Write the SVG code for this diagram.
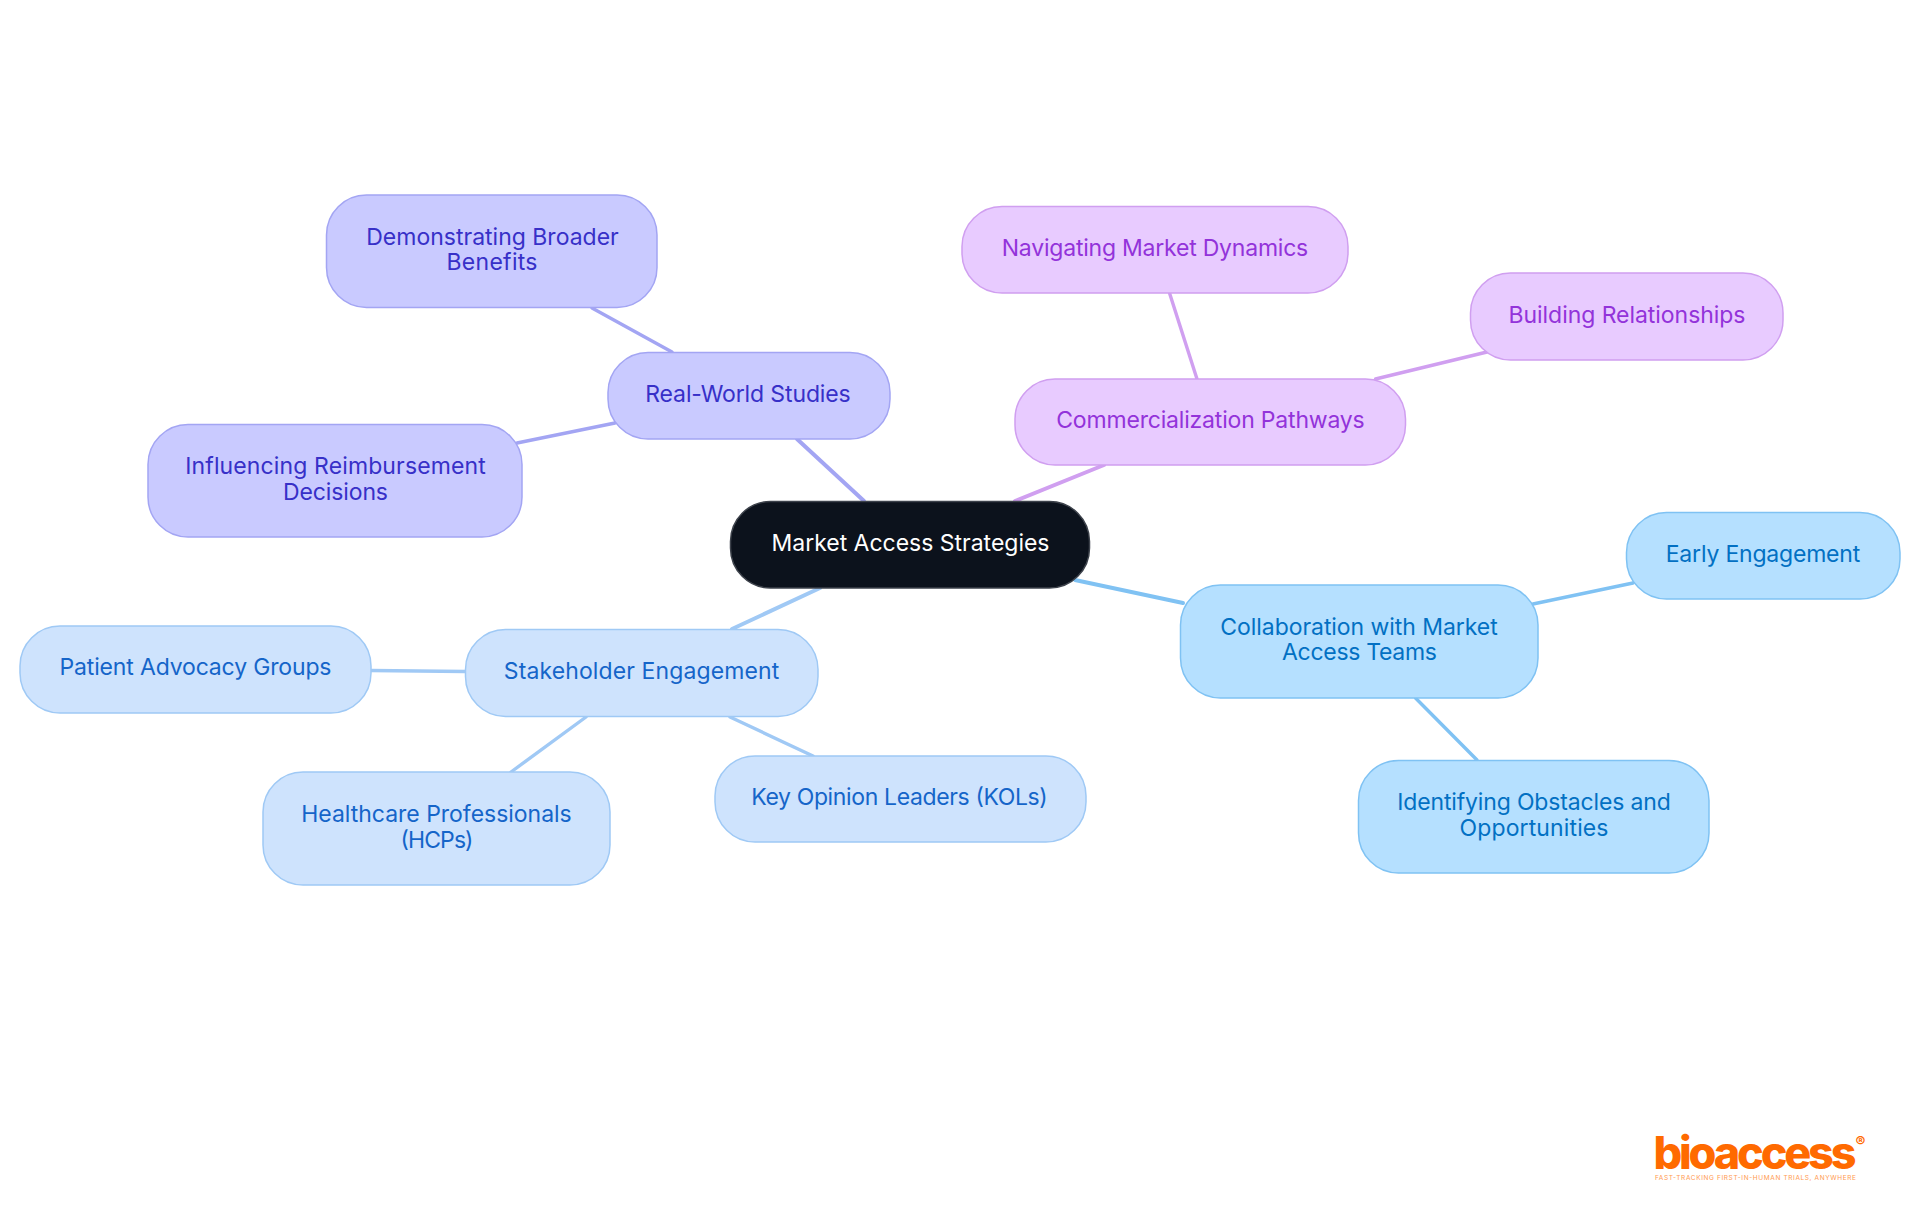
<svg xmlns="http://www.w3.org/2000/svg" width="1920" height="1215" viewBox="0 0 1920 1215">
<style>
text{font-family:"Inter","Noto Sans","Liberation Sans",sans-serif;font-size:23px;font-weight:400;text-anchor:middle}
rect{stroke-width:1.5}
line{stroke-linecap:round;fill:none}
.e1{stroke-width:4}
.e2{stroke-width:3.4}
.indigo rect{fill:#c9caff;stroke:#a3a5f3}.indigo text{fill:#3730c8}
.purple rect{fill:#e8cbff;stroke:#d09ff0}.purple text{fill:#9333da}
.blue rect{fill:#cee3fd;stroke:#9fc9f5}.blue text{fill:#1565c9}
.sky rect{fill:#b5e0ff;stroke:#7fc2f3}.sky text{fill:#0270c3}
.root rect{fill:#0c121c;stroke:#3d424b}.root text{fill:#fff}
.li{stroke:#a3a5f3}.lp{stroke:#d09ff0}.lb{stroke:#a0c9f5}.ls{stroke:#80c2f3}
</style>
<rect width="1920" height="1215" fill="#fff" style="stroke:none"/>
<g id="connectors">
<line class="e1 li" x1="797" y1="439" x2="864" y2="501"/>
<line class="e1 lp" x1="1104" y1="465" x2="1015" y2="501"/>
<line class="e1 ls" x1="1075" y1="580" x2="1183" y2="603"/>
<line class="e1 lb" x1="820" y1="588" x2="732" y2="629"/>
<line class="e2 li" x1="592" y1="308" x2="672" y2="352"/>
<line class="e2 li" x1="615" y1="423" x2="517" y2="443"/>
<line class="e2 lp" x1="1169.5" y1="293" x2="1197" y2="379"/>
<line class="e2 lp" x1="1375.5" y1="379" x2="1487" y2="352"/>
<line class="e2 lb" x1="371" y1="670.5" x2="465" y2="671.5"/>
<line class="e2 lb" x1="586" y1="717" x2="511" y2="772"/>
<line class="e2 lb" x1="730" y1="717" x2="813" y2="756"/>
<line class="e2 ls" x1="1533" y1="604" x2="1633" y2="583"/>
<line class="e2 ls" x1="1415.5" y1="698" x2="1477" y2="760"/>
</g>
<g id="root" class="root"><rect x="730.5" y="501.5" width="359" height="86.5" rx="40"/><text x="910.5" y="551" textLength="278">Market Access Strategies</text></g>
<g id="real-world" class="indigo"><rect x="608" y="352.5" width="282" height="86.5" rx="40"/><text x="748" y="402" textLength="205.5">Real-World Studies</text></g>
<g id="demonstrating" class="indigo"><rect x="326.5" y="195" width="330.5" height="112.5" rx="40"/><text x="492.5" y="245" textLength="252.5">Demonstrating Broader</text><text x="492" y="270" textLength="91">Benefits</text></g>
<g id="influencing" class="indigo"><rect x="148" y="424.5" width="374" height="112.5" rx="40"/><text x="335.5" y="474" textLength="300.5">Influencing Reimbursement</text><text x="335.5" y="499.5" textLength="105">Decisions</text></g>
<g id="commercialization" class="purple"><rect x="1015" y="379" width="390.5" height="86" rx="40"/><text x="1210.5" y="427.5" textLength="308.5">Commercialization Pathways</text></g>
<g id="navigating" class="purple"><rect x="962" y="206.5" width="386" height="86.5" rx="40"/><text x="1155" y="256" textLength="306.5">Navigating Market Dynamics</text></g>
<g id="building" class="purple"><rect x="1470.5" y="273" width="312.5" height="87" rx="40"/><text x="1627" y="323" textLength="237">Building Relationships</text></g>
<g id="stakeholder" class="blue"><rect x="465.5" y="629.5" width="352.5" height="87" rx="40"/><text x="641.5" y="679" textLength="275.5">Stakeholder Engagement</text></g>
<g id="patient" class="blue"><rect x="20" y="626" width="351" height="87" rx="40"/><text x="195.5" y="675" textLength="272">Patient Advocacy Groups</text></g>
<g id="healthcare" class="blue"><rect x="263" y="772" width="347" height="113" rx="40"/><text x="436.5" y="822" textLength="270.5">Healthcare Professionals</text><text x="437" y="847.5" textLength="73">(HCPs)</text></g>
<g id="kol" class="blue"><rect x="715" y="756" width="371" height="86" rx="40"/><text x="899.5" y="805" textLength="296.5">Key Opinion Leaders (KOLs)</text></g>
<g id="collaboration" class="sky"><rect x="1180.5" y="585" width="357.5" height="113" rx="40"/><text x="1359" y="635" textLength="277.5">Collaboration with Market</text><text x="1359.5" y="660" textLength="155">Access Teams</text></g>
<g id="early" class="sky"><rect x="1626.5" y="512.5" width="273.5" height="86.5" rx="40"/><text x="1763" y="562" textLength="194.5">Early Engagement</text></g>
<g id="identifying" class="sky"><rect x="1358.5" y="760.5" width="350.5" height="112.5" rx="40"/><text x="1534" y="810" textLength="273.5">Identifying Obstacles and</text><text x="1534" y="835.5" textLength="149">Opportunities</text></g>
<g id="logo">
<text x="1755" y="1169" textLength="203" style="font-size:45px;font-weight:800;fill:#ff6a00">bioaccess</text>
<text x="1860.5" y="1147" style="font-size:15px;font-weight:700;fill:#ff6a00">®</text>
<text x="1755.5" y="1180" textLength="201" style="font-size:6.5px;font-weight:400;fill:#ff9a50">FAST-TRACKING FIRST-IN-HUMAN TRIALS, ANYWHERE</text>
</g>
</svg>
